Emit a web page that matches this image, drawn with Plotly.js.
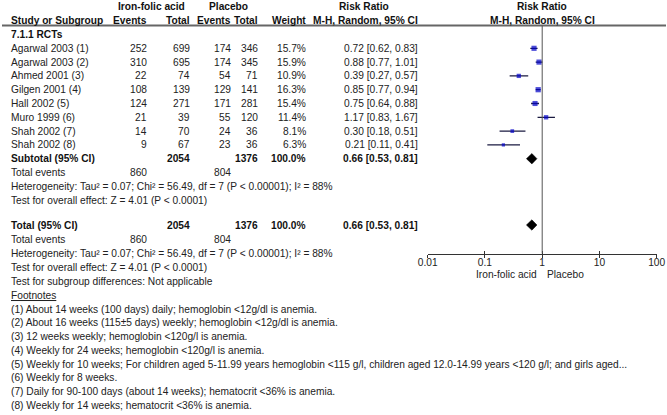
<!DOCTYPE html>
<html>
<head>
<meta charset="utf-8">
<script src="https://cdn.plot.ly/plotly-3.0.1.min.js"></script>
<style>html,body{margin:0;padding:0;background:#fff;}#chart{width:667px;height:415px;}</style>
</head>
<body>
<div id="chart"></div>
<script>
// ---------------- DATA ----------------
var studies = ["Agarwal 2003 (1)","Agarwal 2003 (2)","Ahmed 2001 (3)","Gilgen 2001 (4)","Hall 2002 (5)","Muro 1999 (6)","Shah 2002 (7)","Shah 2002 (8)"];
var ifaEvents = [252,310,22,108,124,21,14,9];
var ifaTotal  = [699,695,74,139,271,39,70,67];
var plcEvents = [174,174,54,129,171,55,24,23];
var plcTotal  = [346,345,71,141,281,120,36,36];
var weights   = [15.7,15.9,10.9,16.3,15.4,11.4,8.1,6.3];
var rr        = [0.72,0.88,0.39,0.85,0.75,1.17,0.30,0.21];
var rrLo      = [0.62,0.77,0.27,0.77,0.64,0.83,0.18,0.11];
var rrHi      = [0.83,1.01,0.57,0.94,0.88,1.67,0.51,0.41];
var pooled    = [0.66,0.53,0.81];           // estimate, lower, upper
var totals    = [2054,1376,100.0];          // ifa total, placebo total, weight
var totalEvents = [860,804];
var axisTicks = [0.01,0.1,1,10,100];
var axisTickText = ["0.01","0.1","1","10","100"];
var subgroupLabel = "7.1.1 RCTs";
var hetText = "Heterogeneity: Tau\u00b2 = 0.07; Chi\u00b2 = 56.49, df = 7 (P < 0.00001); I\u00b2 = 88%";
var overallText = "Test for overall effect: Z = 4.01 (P < 0.0001)";
var subgroupDiffText = "Test for subgroup differences: Not applicable";
var footnotes = [
 "(1) About 14 weeks (100 days) daily; hemoglobin <12g/dl is anemia.",
 "(2) About 16 weeks (115\u00b15 days) weekly; hemoglobin <12g/dl is anemia.",
 "(3) 12 weeks weekly; hemoglobin <120g/l is anemia.",
 "(4) Weekly for 24 weeks; hemoglobin <120g/l is anemia.",
 "(5) Weekly for 10 weeks; For children aged 5-11.99 years hemoglobin <115 g/l, children aged 12.0-14.99 years <120 g/l; and girls aged...",
 "(6) Weekly for 8 weeks.",
 "(7) Daily for 90-100 days (about 14 weeks); hematocrit <36% is anemia.",
 "(8) Weekly for 14 weeks; hematocrit <36% is anemia."
];

// ---------------- LAYOUT GEOMETRY ----------------
var W = 667, H = 415;
var FONT = "Liberation Sans, Arial, sans-serif";
var FS = 10.2;
var TXT = "#222";
var step = 13.8;
var yHead1 = 6, yHead2 = 20.5, yRule = 25.5, ySub = 34.5;
function rowY(i){ return ySub + (i+1)*step; }
var ySubtotal = rowY(8), yTE1 = ySubtotal + 14, yHet1 = yTE1 + 14, yOv1 = yHet1 + 14;
var yTotal = 225, yTE2 = 239, yHet2 = 253, yOv2 = 267, ySG = 281, yFN = 295.5;
var yAxisLine = 253.5, yAxisLabel = 274.5;
var colX = {label:10, ev1:148, tot1:191, ev2:232, tot2:259, wt:307, rr:419};

function fmt(v){ return v.toFixed(2); }
function ciText(a,b,c){ return fmt(a)+" ["+fmt(b)+", "+fmt(c)+"]"; }

var anns = [];
function ann(text, xp, y, anchor, bold){
  anns.push({text: bold ? "<b>"+text+"</b>" : text, xref:"paper", yref:"y", x:xp/W, y:y,
    xanchor:anchor, yanchor:"middle", showarrow:false, borderpad:0,
    font:{family:FONT, size:FS, color: bold ? "#111" : TXT}});
}
// headers
ann("Iron-folic acid", 151, yHead1, "center", true);
ann("Placebo", 228, yHead1, "center", true);
ann("Risk Ratio", 364, yHead1, "center", true);
ann("Risk Ratio", 542, yHead1, "center", true);
ann("Study or Subgroup", colX.label, yHead2, "left", true);
ann("Events", colX.ev1, yHead2, "right", true);
ann("Total", colX.tot1, yHead2, "right", true);
ann("Events", colX.ev2, yHead2, "right", true);
ann("Total", colX.tot2, yHead2, "right", true);
ann("Weight", colX.wt, yHead2, "right", true);
ann("M-H, Random, 95% CI", colX.rr, yHead2, "right", true);
ann("M-H, Random, 95% CI", 542, yHead2, "center", true);
ann(subgroupLabel, colX.label, ySub, "left", true);
// study rows
for (var i=0;i<studies.length;i++){
  var y = rowY(i);
  ann(studies[i], colX.label, y, "left", false);
  ann(String(ifaEvents[i]), colX.ev1, y, "right", false);
  ann(String(ifaTotal[i]), colX.tot1, y, "right", false);
  ann(String(plcEvents[i]), colX.ev2, y, "right", false);
  ann(String(plcTotal[i]), colX.tot2, y, "right", false);
  ann(weights[i].toFixed(1)+"%", colX.wt, y, "right", false);
  ann(ciText(rr[i],rrLo[i],rrHi[i]), colX.rr, y, "right", false);
}
// subtotal & total blocks
[[ySubtotal,yTE1,yHet1,yOv1,"Subtotal (95% CI)"],[yTotal,yTE2,yHet2,yOv2,"Total (95% CI)"]].forEach(function(b){
  ann(b[4], colX.label, b[0], "left", true);
  ann(String(totals[0]), colX.tot1, b[0], "right", true);
  ann(String(totals[1]), colX.tot2, b[0], "right", true);
  ann(totals[2].toFixed(1)+"%", colX.wt, b[0], "right", true);
  ann(ciText(pooled[0],pooled[1],pooled[2]), colX.rr, b[0], "right", true);
  ann("Total events", colX.label, b[1], "left", false);
  ann(String(totalEvents[0]), colX.ev1, b[1], "right", false);
  ann(String(totalEvents[1]), colX.ev2, b[1], "right", false);
  ann(hetText, colX.label, b[2], "left", false);
  ann(overallText, colX.label, b[3], "left", false);
});
ann(subgroupDiffText, colX.label, ySG, "left", false);
ann("<span style='text-decoration:underline'>Footnotes</span>", colX.label, yFN, "left", false);
footnotes.forEach(function(t,k){ ann(t.replace(/</g,"&lt;"), colX.label, yFN + (k+1)*13.7, "left", false); });
// axis captions
anns.push({text:"Iron-folic acid", xref:"x", yref:"y", x:0, y:yAxisLabel, xanchor:"right", yanchor:"middle", xshift:-4, showarrow:false, borderpad:0, font:{family:FONT,size:FS,color:TXT}});
anns.push({text:"Placebo", xref:"x", yref:"y", x:0, y:yAxisLabel, xanchor:"left", yanchor:"middle", xshift:4, showarrow:false, borderpad:0, font:{family:FONT,size:FS,color:TXT}});

// ---------------- TRACES ----------------
var rowYs = studies.map(function(s,i){ return rowY(i); });
var traces = [];
traces.push({type:"scatter", mode:"markers", x:rr, y:rowYs, xaxis:"x", yaxis:"y",
  marker:{symbol:"square", color:"#0000c8", size:weights.map(function(w){return 1.3*Math.sqrt(w);}), line:{width:0}},
  error_x:{type:"data", symmetric:false, array:rr.map(function(v,i){return rrHi[i]-v;}),
    arrayminus:rr.map(function(v,i){return v-rrLo[i];}), color:"#1a1a40", thickness:1.3, width:0},
  hoverinfo:"skip", showlegend:false, cliponaxis:false});
[ySubtotal, yTotal].forEach(function(yc){
  var h = 5.2;
  traces.push({type:"scatter", mode:"lines", fill:"toself", fillcolor:"#000",
    x:[pooled[1], pooled[0], pooled[2], pooled[0], pooled[1]],
    y:[yc, yc-h, yc, yc+h, yc], line:{color:"#000", width:0.5},
    hoverinfo:"skip", showlegend:false, xaxis:"x", yaxis:"y"});
});
// overlay axis for ticks above the line
traces.push({type:"scatter", mode:"markers", x:[1], y:[yAxisLine], xaxis:"x2", yaxis:"y", marker:{opacity:0}, hoverinfo:"skip", showlegend:false});

var dom = [427.7/W, 656.7/W];
var pos = 1 - yAxisLine/H;
var layout = {
  width:W, height:H, margin:{l:0,r:0,t:0,b:0}, paper_bgcolor:"#fff", plot_bgcolor:"rgba(0,0,0,0)",
  font:{family:FONT, size:FS, color:TXT},
  xaxis:{type:"log", range:[-2,2], domain:dom, anchor:"free", position:pos,
    showline:true, linecolor:"#333", linewidth:1, showgrid:false, zeroline:false,
    tickmode:"array", tickvals:axisTicks, ticktext:axisTickText, ticks:"outside", ticklen:3, tickcolor:"#333", tickwidth:1,
    ticklabelstandoff:-4,
    tickfont:{family:FONT, size:FS, color:TXT}},
  xaxis2:{type:"log", range:[-2,2], domain:dom, anchor:"free", position:pos, overlaying:"x",
    showline:false, showgrid:false, zeroline:false, tickmode:"array", tickvals:axisTicks, ticks:"inside",
    ticklen:3, tickcolor:"#333", tickwidth:1, showticklabels:false},
  yaxis:{range:[H,0], domain:[0,1], visible:false, fixedrange:true},
  shapes:[
    {type:"line", xref:"paper", yref:"y", x0:2/W, x1:666/W, y0:yRule, y1:yRule, line:{color:"#666", width:2}},
    {type:"line", xref:"x", yref:"y", x0:1, x1:1, y0:yRule, y1:yAxisLine, line:{color:"#555", width:1}}
  ],
  annotations:anns,
  showlegend:false
};
Plotly.newPlot("chart", traces, layout, {staticPlot:true, displayModeBar:false});
</script>
</body>
</html>
